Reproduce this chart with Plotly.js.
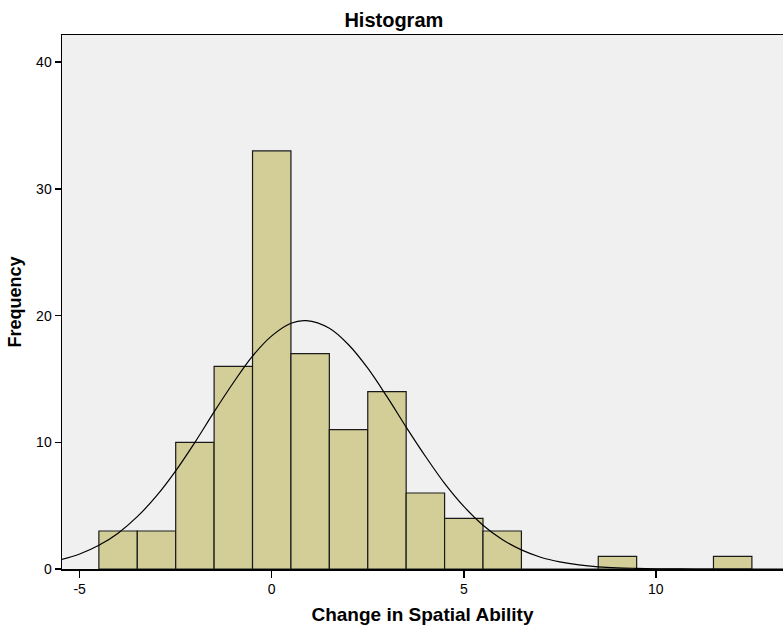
<!DOCTYPE html>
<html>
<head>
<meta charset="utf-8">
<script src="https://cdn.plot.ly/plotly-3.0.1.min.js"></script>
<style>html,body{margin:0;padding:0;background:#fff;}#chart{width:783px;height:630px;}</style>
</head>
<body>
<div id="chart"></div>
<script>
// Histogram bins (bin centers, width 1) and frequencies
const binCenters = [-4, -3, -2, -1, 0, 1, 2, 3, 4, 5, 6, 7, 8, 9, 10, 11, 12];
const frequencies = [3, 3, 10, 16, 33, 17, 11, 14, 6, 4, 3, 0, 0, 1, 0, 0, 1];

// Normal curve, points
const curveX = [-5.5, -5, -4.5, -4, -3.5, -3, -2.5, -2, -1.5, -1, -0.5, 0, 0.5, 0.9, 1.5, 2, 2.5, 3, 3.5, 4, 4.5, 5, 5.5, 6, 6.5, 7, 7.5, 8, 8.5, 9, 9.5, 10, 10.5, 11, 12, 13.4];
const curveY = [0.72, 1.18, 1.87, 2.83, 4.13, 5.77, 7.75, 10.0, 12.4, 14.7, 16.8, 18.4, 19.4, 19.6, 19.0, 17.7, 15.85, 13.6, 11.2, 8.9, 6.76, 4.94, 3.46, 2.33, 1.51, 0.93, 0.56, 0.32, 0.17, 0.09, 0.05, 0.02, 0.01, 0.0, 0.0, 0.0];

const xTickVals = [-5, 0, 5, 10];
const xTickText = ["-5", "0", "5", "10"];
const yTickVals = [0, 10, 20, 30, 40];

const font = "Liberation Sans, Arial, sans-serif";

const traces = [
  {
    type: "bar",
    x: binCenters,
    y: frequencies,
    width: 1,
    marker: { color: "#d3ce98", line: { color: "#1a1a1a", width: 1.2 } },
    hoverinfo: "x+y",
    showlegend: false
  },
  {
    type: "scatter",
    mode: "lines",
    x: curveX,
    y: curveY,
    line: { color: "#000", width: 1.2, shape: "spline" },
    hoverinfo: "skip",
    showlegend: false
  }
];

const layout = {
  width: 783,
  height: 630,
  margin: { l: 62, r: 0, t: 35, b: 61, pad: 0 },
  paper_bgcolor: "#ffffff",
  plot_bgcolor: "#f0f0f0",
  bargap: 0,
  font: { family: font, size: 14, color: "#000" },
  title: {
    text: "<b>Histogram</b>",
    font: { family: font, size: 20, color: "#000" },
    x: 0.503, xref: "container", xanchor: "center",
    y: 0.968, yref: "container", yanchor: "middle"
  },
  xaxis: {
    range: [-5.46, 13.31],
    tickmode: "array",
    tickvals: xTickVals,
    ticktext: xTickText,
    ticks: "outside",
    ticklen: 7,
    tickwidth: 1.5,
    tickcolor: "#000",
    showline: true,
    linecolor: "#000",
    linewidth: 1.5,
    mirror: true,
    showgrid: false,
    zeroline: false,
    tickfont: { family: font, size: 14, color: "#000" },
    title: { text: "<b>Change in Spatial Ability</b>", font: { family: font, size: 19, color: "#000" }, standoff: 11 }
  },
  yaxis: {
    range: [0, 42.15],
    tickmode: "array",
    tickvals: yTickVals,
    ticks: "outside",
    ticklen: 6,
    tickwidth: 1.5,
    tickcolor: "#000",
    showline: true,
    linecolor: "#000",
    linewidth: 1.5,
    showgrid: false,
    zeroline: false,
    tickfont: { family: font, size: 14, color: "#000" },
    title: { text: "<b>Frequency</b>", font: { family: font, size: 18, color: "#000" }, standoff: 10 }
  }
};

Plotly.newPlot("chart", traces, layout, { displayModeBar: false, staticPlot: true });
</script>
</body>
</html>
